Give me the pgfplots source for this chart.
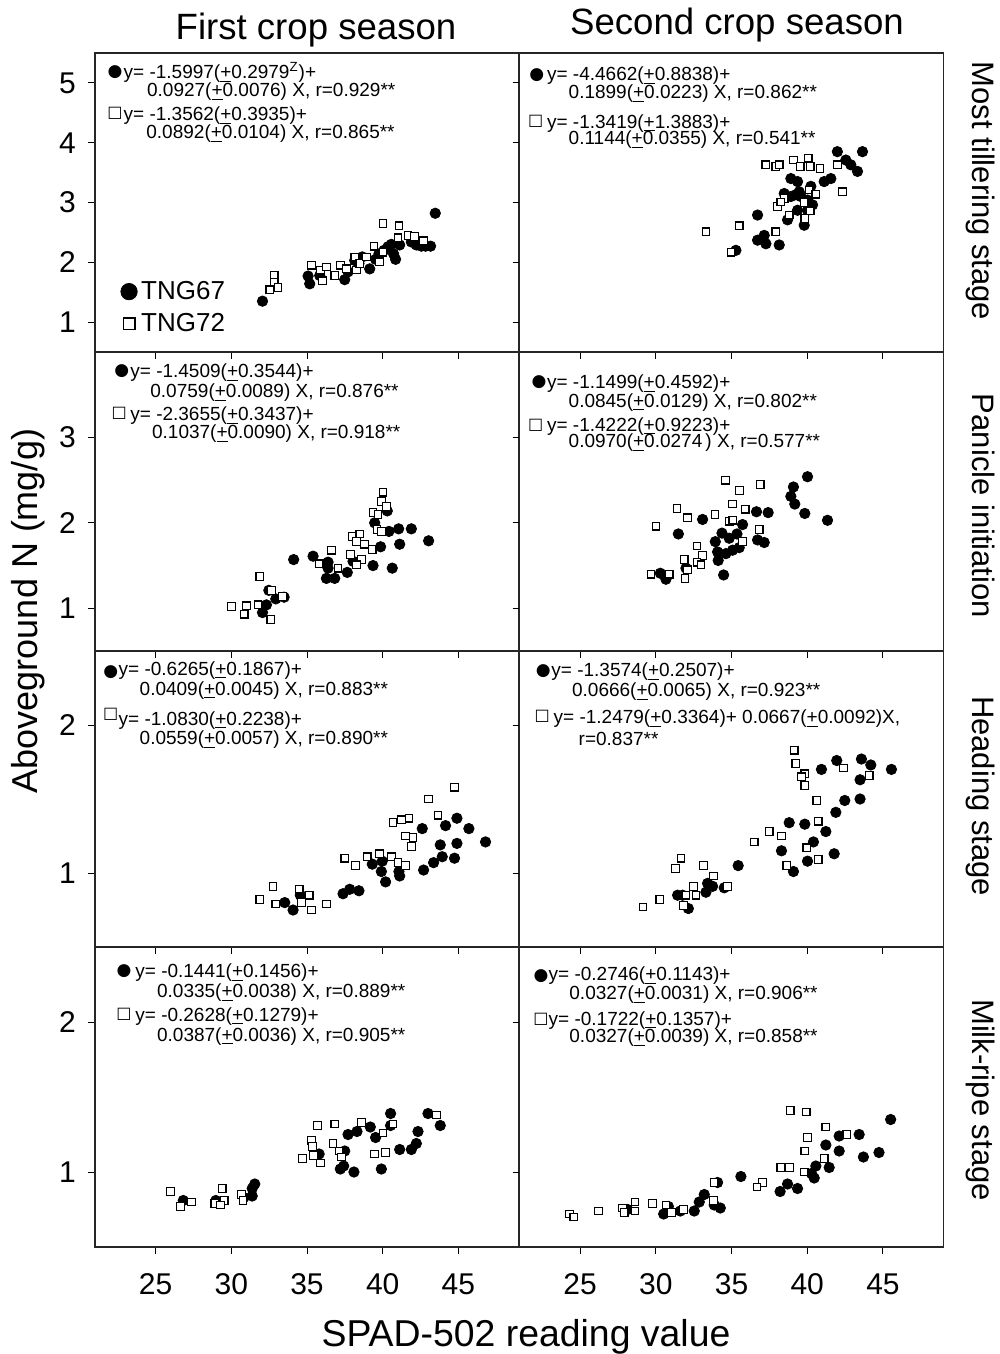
\documentclass[border=0pt]{standalone}
\usepackage{fontspec}
\setmainfont{Liberation Sans}
\newfontfamily\symfont{DejaVu Sans}
\usepackage{pgfplots}
\pgfplotsset{compat=1.18}
\pgfplotsset{
 panel/.style={scale only axis, width=212pt, xmin=21, xmax=49, xtick={25,30,35,40,45},
   tick align=outside, tick pos=left, major tick length=3.5pt,
   axis line style={line width=0.6pt, black!85},
   every tick/.style={black, line width=0.5pt},
   /pgf/number format/assume math mode=true,
   tick label style={font=\fontsize{15}{18}\selectfont},
   yticklabel style={xshift=-2.5pt},
   xticklabel style={yshift=-5.5pt, text height=11pt, text depth=0pt},
   clip=false},
 noxl/.style={xticklabels={}},
 noyl/.style={yticklabels={}},
 g67/.style={only marks, mark=*, mark size=2.6pt, mark options={draw=black, fill=black}},
 g72/.style={only marks, mark=square*, mark size=1.9pt, mark options={draw=black, fill=white, line width=0.6pt}},
 smallimg/.style={legend image code/.code={\draw[mark repeat=2,mark phase=2,##1] plot coordinates {(0pt,0pt) (4.5pt,0pt) (9pt,0pt)};}},
}
\newcommand{\PM}{\underline{+}}
\newcommand{\eq}[3]{\node[anchor=base west, inner sep=0pt, font=\fontsize{9.5}{11}\selectfont] at (#1,-#2) {#3};}
\newcommand{\dsym}[2]{\node[inner sep=0pt, font=\fontsize{8.5}{8.5}\symfont] at (#1,-#2) {●};}
\newcommand{\ssym}[2]{\node[inner sep=0pt, font=\fontsize{8}{8}\symfont] at (#1,-#2) {□};}
\begin{document}
\begin{tikzpicture}[x=0.5pt,y=0.5pt]
\path[use as bounding box] (0,0) rectangle (1000,-1354);

% ---------- Row 1: Most tillering stage ----------
\begin{axis}[panel, noxl, at={(47.5pt,-26.5pt)}, anchor=north west, height=149.5pt,
  ymin=0.5, ymax=5.5, ytick={1,2,3,4,5},
  legend style={at={(0.06,0.252)}, anchor=north west, draw=none, fill=none,
    font=\fontsize{13}{15}\selectfont, row sep=1.5pt, inner sep=0pt},
  legend cell align=left]
\addplot[g67, forget plot] coordinates {(32.06,1.35) (35.07,1.77) (35.18,1.64) (35.84,1.78) (37.49,1.71) (37.71,1.84) (38.15,2.03) (38.43,1.98) (38.65,2.09) (39.14,1.89) (39.53,2.05) (39.75,2.14) (40.08,2.20) (40.35,2.26) (40.57,2.30) (41.12,2.29) (40.72,2.14) (40.85,2.05) (41.89,2.34) (42.22,2.29) (42.55,2.27) (42.83,2.27) (43.16,2.27) (43.47,2.82)};
\addplot[g72, forget plot] coordinates {(32.83,1.78) (32.83,1.67) (32.54,1.54) (33.09,1.58) (35.29,1.95) (35.88,1.87) (36.02,1.69) (36.28,1.92) (36.83,1.78) (37.20,1.95) (37.60,1.89) (38.15,2.09) (38.26,1.87) (38.48,1.98) (39.42,2.27) (39.80,2.01) (40.02,2.65) (41.07,2.61) (41.01,2.41) (41.67,2.45) (42.11,2.43) (42.70,2.36) (40.02,2.17) (38.92,2.09)};
\addlegendimage{only marks, mark=*, mark size=4.1pt, mark options={fill=black}, smallimg}
\addlegendentry{TNG67}
\addlegendimage{only marks, mark=square, mark size=2.9pt, mark options={line width=0.7pt}, smallimg}
\addlegendentry{TNG72}
\end{axis}
\begin{axis}[panel, noxl, noyl, at={(259.75pt,-26.5pt)}, anchor=north west, height=149.5pt,
  ymin=0.5, ymax=5.5, ytick={1,2,3,4,5}]
\addplot[g67] coordinates {(43.65,3.85) (41.99,3.85) (42.55,3.71) (42.88,3.63) (43.32,3.52) (41.56,3.40) (41.12,3.35) (38.92,3.40) (39.36,3.35) (40.24,3.27) (38.48,3.15) (38.92,3.10) (39.25,3.13) (39.58,3.10) (40.02,3.04) (40.35,2.96) (39.36,2.87) (38.70,2.71) (39.80,2.62) (36.72,2.79) (36.72,2.37) (37.16,2.45) (37.27,2.31) (38.15,2.29) (35.29,2.20) (39.47,3.18) (40.02,2.87)};
\addplot[g72] coordinates {(37.27,3.63) (37.93,3.60) (38.15,3.63) (39.09,3.71) (40.06,3.74) (39.53,3.60) (40.19,3.60) (40.85,3.57) (41.99,3.63) (42.33,3.18) (38.48,3.07) (38.04,2.93) (38.26,3.01) (40.13,3.21) (40.57,3.14) (39.80,3.00) (38.81,2.79) (40.19,2.86) (39.84,2.73) (33.31,2.51) (35.51,2.61) (37.93,2.51) (34.96,2.17)};
\end{axis}

% ---------- Row 2: Panicle initiation ----------
\begin{axis}[panel, noxl, at={(47.5pt,-176pt)}, anchor=north west, height=149.5pt,
  ymin=0.5, ymax=4.0, ytick={1,2,3}]
\addplot[g67] coordinates {(40.30,2.14) (39.47,2.00) (40.41,1.90) (41.05,1.93) (41.89,1.93) (43.03,1.79) (39.86,1.72) (41.12,1.75) (39.36,1.50) (40.63,1.47) (38.04,1.55) (37.66,1.42) (36.39,1.54) (36.39,1.47) (36.28,1.35) (36.83,1.35) (35.40,1.61) (34.12,1.57) (32.48,1.21) (32.94,1.11) (33.49,1.13) (32.32,1.04) (32.06,0.95)};
\addplot[g72] coordinates {(40.02,2.36) (39.91,2.25) (40.24,2.19) (39.36,2.12) (39.69,2.10) (39.62,1.92) (39.91,1.90) (37.99,1.84) (38.48,1.87) (38.26,1.78) (38.81,1.75) (39.31,1.69) (36.61,1.68) (37.86,1.63) (38.59,1.57) (38.26,1.51) (35.80,1.52) (37.05,1.47) (31.88,1.37) (32.65,1.21) (33.38,1.14) (31.77,1.04) (31.00,1.03) (30.01,1.02) (30.85,0.93) (32.61,0.87)};
\end{axis}
\begin{axis}[panel, noxl, noyl, at={(259.75pt,-176pt)}, anchor=north west, height=149.5pt,
  ymin=0.5, ymax=4.0, ytick={1,2,3}]
\addplot[g67] coordinates {(40.02,2.54) (39.09,2.42) (38.92,2.31) (39.18,2.22) (39.84,2.11) (41.34,2.03) (36.65,2.13) (37.42,2.12) (33.09,2.04) (35.73,1.98) (31.49,1.87) (34.37,1.88) (34.85,1.82) (35.36,1.87) (33.93,1.78) (36.72,1.80) (37.16,1.77) (35.51,1.71) (35.07,1.68) (34.08,1.66) (34.63,1.64) (34.12,1.56) (34.48,1.39) (30.30,1.41) (30.67,1.34) (31.99,1.47)};
\addplot[g72] coordinates {(34.59,2.50) (35.53,2.38) (36.90,2.45) (35.07,2.22) (35.91,2.16) (31.40,2.17) (32.10,2.06) (33.91,2.10) (34.85,2.02) (35.09,2.03) (30.01,1.96) (36.83,1.92) (35.73,1.78) (32.72,1.73) (33.09,1.62) (31.88,1.57) (32.72,1.54) (32.98,1.51) (29.68,1.40) (30.89,1.40) (31.93,1.35) (32.10,1.45)};
\end{axis}

% ---------- Row 3: Heading stage ----------
\begin{axis}[panel, noxl, at={(47.5pt,-325.5pt)}, anchor=north west, height=148pt,
  ymin=0.5, ymax=2.5, ytick={1,2}]
\addplot[g67] coordinates {(44.90,1.37) (44.15,1.32) (45.69,1.30) (46.79,1.21) (42.61,1.30) (43.80,1.19) (44.90,1.20) (43.93,1.11) (43.36,1.07) (44.74,1.10) (42.70,1.02) (39.31,1.06) (39.97,1.08) (39.91,1.01) (41.07,1.01) (41.12,0.98) (40.19,0.94) (37.38,0.86) (37.82,0.89) (38.43,0.88) (33.53,0.80) (34.08,0.75) (34.56,0.85)};
\addplot[g72] coordinates {(44.74,1.58) (43.03,1.50) (43.65,1.39) (40.68,1.34) (41.23,1.36) (41.73,1.37) (41.51,1.25) (42.00,1.24) (41.89,1.18) (37.49,1.10) (38.19,1.05) (38.98,1.11) (39.80,1.13) (40.57,1.11) (41.01,1.07) (41.51,1.05) (32.76,0.91) (34.48,0.89) (35.14,0.85) (31.88,0.82) (32.94,0.79) (34.63,0.80) (35.29,0.75) (36.28,0.79)};
\end{axis}
\begin{axis}[panel, noxl, noyl, at={(259.75pt,-325.5pt)}, anchor=north west, height=148pt,
  ymin=0.5, ymax=2.5, ytick={1,2}]
\addplot[g67] coordinates {(45.56,1.70) (43.58,1.77) (44.20,1.73) (43.49,1.63) (41.95,1.76) (40.94,1.70) (43.49,1.50) (42.48,1.49) (41.89,1.41) (38.81,1.34) (39.84,1.33) (41.23,1.28) (40.41,1.21) (38.30,1.15) (41.78,1.13) (40.02,1.08) (39.09,1.01) (35.44,1.05) (33.42,0.93) (33.75,0.91) (34.52,0.90) (33.31,0.87) (31.44,0.85) (31.77,0.85) (32.15,0.76)};
\addplot[g72] coordinates {(39.14,1.83) (39.25,1.74) (39.84,1.67) (39.62,1.65) (39.84,1.59) (42.39,1.71) (44.09,1.66) (40.63,1.49) (40.72,1.35) (37.49,1.28) (38.30,1.25) (36.50,1.21) (39.97,1.17) (40.72,1.09) (38.65,1.05) (31.66,1.10) (31.29,1.03) (33.16,1.05) (33.80,0.98) (32.48,0.91) (34.74,0.91) (31.99,0.85) (32.65,0.85) (30.26,0.82) (29.16,0.77) (31.84,0.78)};
\end{axis}

% ---------- Row 4: Milk-ripe stage ----------
\begin{axis}[panel, at={(47.5pt,-473.5pt)}, anchor=north west, height=150pt,
  ymin=0.5, ymax=2.5, ytick={1,2}]
\addplot[g67] coordinates {(40.52,1.39) (40.52,1.31) (42.99,1.39) (43.80,1.31) (42.33,1.27) (42.22,1.19) (41.89,1.15) (41.12,1.15) (39.18,1.30) (38.30,1.27) (37.71,1.25) (39.53,1.23) (37.49,1.14) (35.80,1.12) (37.20,1.02) (37.42,1.04) (38.10,1.00) (39.91,1.02) (31.55,0.92) (31.38,0.89) (31.38,0.84) (30.83,0.83) (28.98,0.81) (26.83,0.81)};
\addplot[g72] coordinates {(43.54,1.38) (40.68,1.32) (40.02,1.26) (38.61,1.33) (36.83,1.32) (35.69,1.31) (35.29,1.21) (35.36,1.17) (36.72,1.19) (37.12,1.14) (37.27,1.10) (39.47,1.12) (40.19,1.13) (35.44,1.11) (34.70,1.09) (35.88,1.06) (25.99,0.87) (27.37,0.80) (26.65,0.77) (29.40,0.89) (29.53,0.81) (28.91,0.79) (29.29,0.78) (30.67,0.85) (30.78,0.81)};
\end{axis}
\begin{axis}[panel, noyl, at={(259.75pt,-473.5pt)}, anchor=north west, height=150pt,
  ymin=0.5, ymax=2.5, ytick={1,2}]
\addplot[g67] coordinates {(45.51,1.35) (43.43,1.25) (42.11,1.24) (44.74,1.13) (43.71,1.10) (42.11,1.14) (41.23,1.18) (41.45,1.03) (40.57,1.04) (40.46,0.96) (40.28,0.99) (39.36,0.89) (38.70,0.92) (38.21,0.87) (35.62,0.97) (34.08,0.93) (33.86,0.78) (34.26,0.76) (33.20,0.85) (32.87,0.80) (32.54,0.74) (31.62,0.74) (30.83,0.77) (30.52,0.72) (28.14,0.75)};
\addplot[g72] coordinates {(38.87,1.41) (39.93,1.40) (41.23,1.30) (40.02,1.23) (42.61,1.25) (39.84,1.14) (41.12,1.09) (38.26,1.03) (38.83,1.03) (39.80,1.00) (37.05,0.93) (36.68,0.90) (33.86,0.93) (33.80,0.81) (31.84,0.75) (31.05,0.73) (30.67,0.78) (29.79,0.79) (28.63,0.80) (28.63,0.74) (27.81,0.76) (27.92,0.73) (26.21,0.74) (24.30,0.72) (24.58,0.70)};
\end{axis}

% ---------- equations ----------
\dsym{115}{71.7}
\eq{123.3}{78.7}{y= -1.5997(\PM0.2979\textsuperscript{Z})+}
\eq{146.7}{97}{0.0927(\PM0.0076) X, r=0.929**}
\ssym{115}{113.3}
\eq{123.3}{120.3}{y= -1.3562(\PM0.3935)+}
\eq{146}{138.7}{0.0892(\PM0.0104) X, r=0.865**}

\dsym{536.7}{75}
\eq{546.7}{80.3}{y= -4.4662(\PM0.8838)+}
\eq{568.3}{98.7}{0.1899(\PM0.0223) X, r=0.862**}
\ssym{535.7}{121}
\eq{546.7}{128}{y= -1.3419(\PM1.3883)+}
\eq{568.3}{144.3}{0.1144(\PM0.0355) X, r=0.541**}

\dsym{121.7}{370.7}
\eq{130}{377.7}{y= -1.4509(\PM0.3544)+}
\eq{150}{397.7}{0.0759(\PM0.0089) X, r=0.876**}
\ssym{119.3}{413.3}
\eq{130}{420.3}{y= -2.3655(\PM0.3437)+}
\eq{151.7}{438.7}{0.1037(\PM0.0090) X, r=0.918**}

\dsym{539}{381.7}
\eq{546.7}{388.7}{y= -1.1499(\PM0.4592)+}
\eq{568.3}{407}{0.0845(\PM0.0129) X, r=0.802**}
\ssym{535.7}{425}
\eq{546.7}{431}{y= -1.4222(\PM0.9223)+}
\eq{568.3}{447.7}{0.0970(\PM0.0274\,) X, r=0.577**}

\dsym{110.7}{672}
\eq{118.3}{675}{y= -0.6265(\PM0.1867)+}
\eq{139.3}{695}{0.0409(\PM0.0045) X, r=0.883**}
\ssym{110.7}{714.7}
\eq{118.3}{725}{y= -1.0830(\PM0.2238)+}
\eq{139.3}{744.3}{0.0559(\PM0.0057) X, r=0.890**}

\dsym{543.3}{671.3}
\eq{551}{676.7}{y= -1.3574(\PM0.2507)+}
\eq{571.7}{696.7}{0.0666(\PM0.0065) X, r=0.923**}
\ssym{542.3}{716.3}
\eq{553.3}{723.3}{y= -1.2479(\PM0.3364)+ 0.0667(\PM0.0092)X,}
\eq{578.3}{745}{r=0.837**}

\dsym{124}{971.3}
\eq{135}{977.7}{y= -0.1441(\PM0.1456)+}
\eq{156.7}{997.7}{0.0335(\PM0.0038) X, r=0.889**}
\ssym{124}{1014.7}
\eq{135}{1021}{y= -0.2628(\PM0.1279)+}
\eq{156.7}{1041}{0.0387(\PM0.0036) X, r=0.905**}

\dsym{541}{975.7}
\eq{548.3}{980.3}{y= -0.2746(\PM0.1143)+}
\eq{569}{999.3}{0.0327(\PM0.0031) X, r=0.906**}
\ssym{541}{1019}
\eq{548.3}{1025}{y= -0.1722(\PM0.1357)+}
\eq{569}{1042.7}{0.0327(\PM0.0039) X, r=0.858**}

% ---------- titles and labels ----------
\node[anchor=base, inner sep=0pt, font=\fontsize{18.3}{22}\selectfont] at (316,-40) {First crop season};
\node[anchor=base, inner sep=0pt, font=\fontsize{18.3}{22}\selectfont] at (737,-35) {Second crop season};
\node[anchor=base, inner sep=0pt, font=\fontsize{18.7}{22}\selectfont] at (526,-1346) {SPAD-502 reading value};
\node[anchor=base, inner sep=0pt, rotate=90, font=\fontsize{18}{22}\selectfont] at (37,-611) {Aboveground N (mg/g)};
\node[anchor=base, inner sep=0pt, rotate=-90, font=\fontsize{15.5}{18}\selectfont] at (972,-191) {Most tillering stage};
\node[anchor=base, inner sep=0pt, rotate=-90, font=\fontsize{15.5}{18}\selectfont] at (972,-506) {Panicle initiation};
\node[anchor=base, inner sep=0pt, rotate=-90, font=\fontsize{15.5}{18}\selectfont] at (972,-796) {Heading stage};
\node[anchor=base, inner sep=0pt, rotate=-90, font=\fontsize{15.5}{18}\selectfont] at (972,-1100) {Milk-ripe stage};
\end{tikzpicture}
\end{document}
